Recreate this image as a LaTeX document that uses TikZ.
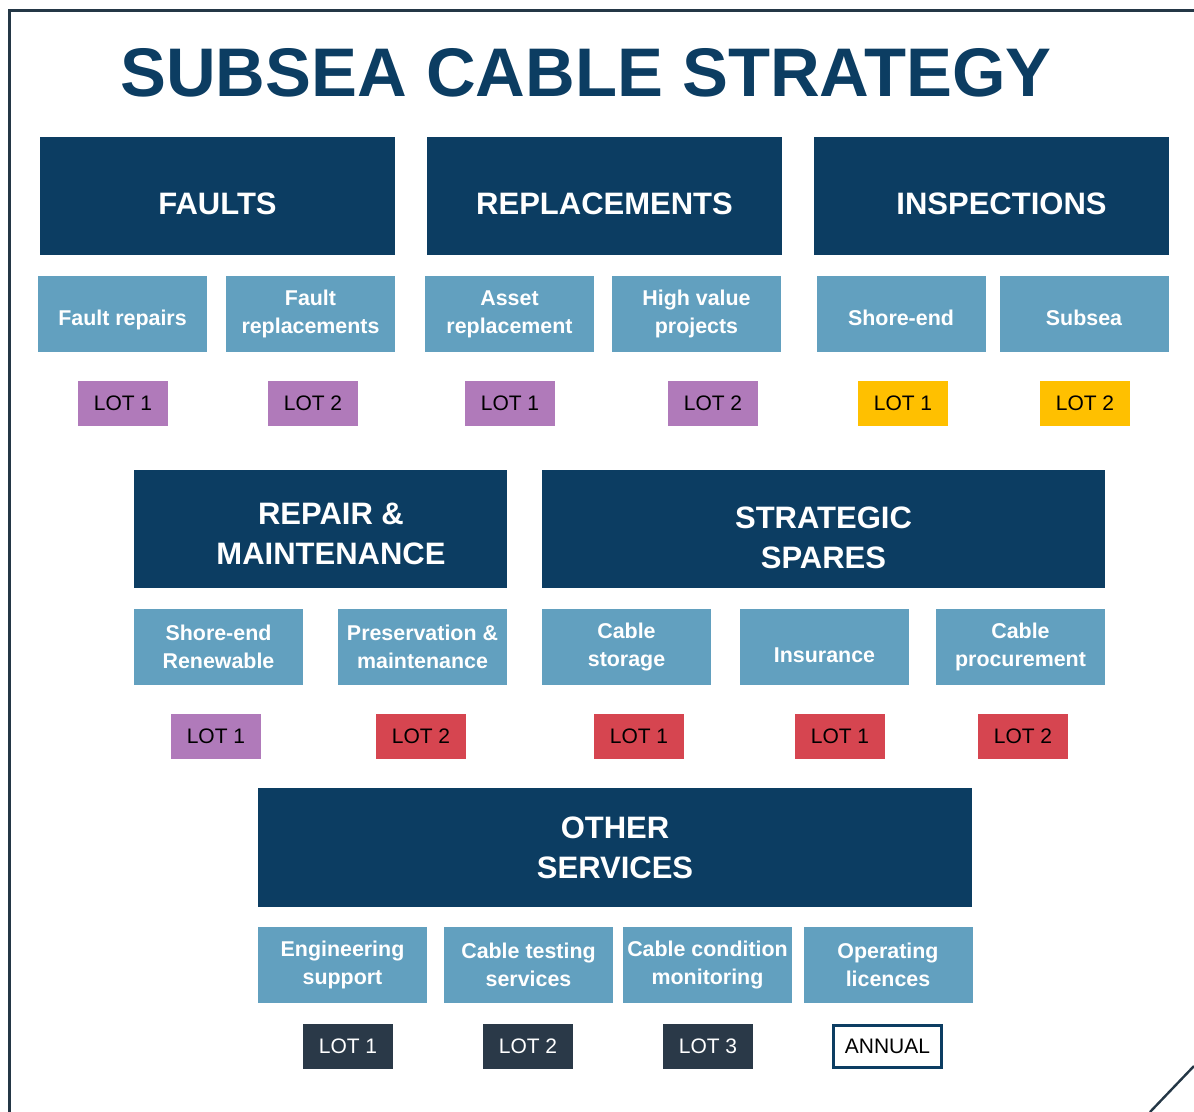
\documentclass[tikz,border=0pt]{standalone}
\usepackage{fontspec}
\setmainfont{Liberation Sans}

\definecolor{navy}{RGB}{12,61,98}
\definecolor{steel}{RGB}{98,160,191}
\definecolor{lotpurple}{RGB}{176,122,186}
\definecolor{lotyellow}{RGB}{255,192,0}
\definecolor{lotred}{RGB}{214,69,80}
\definecolor{lotdark}{RGB}{42,57,72}
\definecolor{frame}{RGB}{36,55,70}

\tikzset{
  head/.style={fill=navy, text=white, font=\fontsize{15.5}{20}\selectfont\bfseries,
    align=center, minimum height=59pt, inner sep=0pt, text depth=0pt},
  sub/.style={fill=steel, text=white, font=\fontsize{10.7}{14}\selectfont\bfseries,
    align=center, minimum width=84.5pt, minimum height=38pt, inner sep=0pt},
  lot/.style={font=\fontsize{10.5}{12}\selectfont, text=black,
    minimum width=45pt, minimum height=22.5pt, inner sep=0pt},
}

\begin{document}
\begin{tikzpicture}[x=0.5pt, y=-0.5pt]
    \useasboundingbox (0,0) rectangle (1194,1112);
    % page frame
    \draw[frame, line width=1.5pt] (9,1112) -- (9,11) -- (1194,11);
    \draw[frame, line width=1.2pt] (1150,1112) -- (1194,1066);
    \node[text=navy, font=\fontsize{34.4}{40}\selectfont\bfseries] (title) at (586,73) {SUBSEA CABLE STRATEGY};

    % Main headers
    \node[head, minimum width=177.5pt, text height=18.1pt] (faults) at (217.5,196) {FAULTS};
    \node[head, minimum width=177.5pt, text height=18.1pt] (replace) at (604.5,196) {REPLACEMENTS};
    \node[head, minimum width=177.5pt, text height=18.1pt] (inspect) at (991.5,196) {\hspace*{10pt}INSPECTIONS};
    \node[head, minimum width=186.5pt, text height=35.1pt] (repair) at (320.5,529) {\hspace*{10.5pt}REPAIR \&\\\hspace*{10.5pt}MAINTENANCE};
    \node[head, minimum width=281.5pt, text height=39.1pt] (spares) at (823.5,529) {STRATEGIC\\SPARES};
    \node[head, minimum width=357pt, minimum height=59.5pt] (other) at (615,847.5) {OTHER\\SERVICES};

    % Sub boxes
    \node[sub, text height=11.7pt, text depth=0pt] (frep) at (122.5,314) {Fault repairs};
    \node[sub] (frepl) at (310.5,314) {Fault\\replacements};
    \node[sub] (asset) at (509.5,314) {Asset\\replacement};
    \node[sub] (hvp) at (696.5,314) {High value\\projects};
    \node[sub, text height=11.7pt, text depth=0pt] (shore) at (901,314) {Shore-end};
    \node[sub, text height=11.7pt, text depth=0pt] (subsea) at (1084,314) {Subsea};
    \node[sub] (renew) at (218.5,647) {Shore-end\\Renewable};
    \node[sub] (preserve) at (422.5,647) {Preservation \&\\maintenance};
    \node[sub] (storage) at (626.5,647) {Cable\\storage};
    \node[sub, text height=15.7pt, text depth=0pt] (insure) at (824.5,647) {Insurance};
    \node[sub] (procure) at (1020.5,647) {Cable\\procurement};
    \node[sub] (eng) at (342.5,965) {Engineering\\support};
    \node[sub] (testing) at (528.5,965) {Cable testing\\services};
    \node[sub] (monitor) at (707.5,965) {Cable condition\\monitoring};
    \node[sub] (licence) at (888,965) {Operating\\licences};

    % Lots
    \node[lot, fill=lotpurple] (lota) at (123,403.5) {LOT 1};
    \node[lot, fill=lotpurple] (lotb) at (313,403.5) {LOT 2};
    \node[lot, fill=lotpurple] (lotc) at (510,403.5) {LOT 1};
    \node[lot, fill=lotpurple] (lotd) at (713,403.5) {LOT 2};
    \node[lot, fill=lotyellow] (lote) at (903,403.5) {LOT 1};
    \node[lot, fill=lotyellow] (lotf) at (1085,403.5) {LOT 2};
    \node[lot, fill=lotpurple] (lotg) at (216,736.5) {LOT 1};
    \node[lot, fill=lotred] (loth) at (421,736.5) {LOT 2};
    \node[lot, fill=lotred] (loti) at (639,736.5) {LOT 1};
    \node[lot, fill=lotred] (lotj) at (840,736.5) {LOT 1};
    \node[lot, fill=lotred] (lotk) at (1023,736.5) {LOT 2};
    \node[lot, fill=lotdark, text=white] (lotl) at (348,1046) {LOT 1};
    \node[lot, fill=lotdark, text=white] (lotm) at (528,1046) {LOT 2};
    \node[lot, fill=lotdark, text=white] (lotn) at (708,1046) {LOT 3};
    \node[lot, draw=navy, line width=1.5pt, fill=white, minimum width=54pt, minimum height=21pt] (annual) at (887.5,1046) {ANNUAL};
\end{tikzpicture}
\end{document}
